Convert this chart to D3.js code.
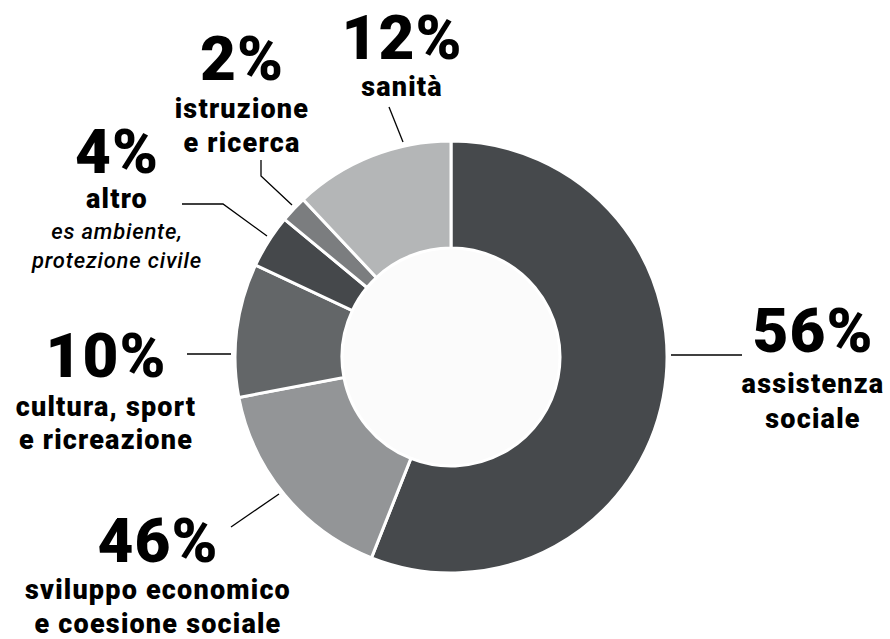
<!DOCTYPE html>
<html><head><meta charset="utf-8">
<script src="https://cdn.jsdelivr.net/npm/d3@7"></script>
<style>
html,body{margin:0;padding:0;background:#fff;}
svg{display:block;}
.pct{font-family:Roboto,"DejaVu Sans",sans-serif;font-weight:900;fill:#000;}
.lab{font-family:Roboto,"DejaVu Sans",sans-serif;font-weight:900;fill:#000;}
.sub{font-family:Roboto,"DejaVu Sans",sans-serif;font-weight:500;font-style:italic;fill:#000;}
</style></head><body>
<svg id="c" width="890" height="639"></svg>
<script>
// ---- data ----
const categories = ["assistenza sociale","sviluppo economico e coesione sociale","cultura, sport e ricreazione","altro","istruzione e ricerca","sanità"];
const values = [56, 16, 10, 4, 2, 12];
const pctLabels = ["56%","46%","10%","4%","2%","12%"];
const labelLines = [["assistenza","sociale"],["sviluppo economico","e coesione sociale"],["cultura, sport","e ricreazione"],["altro"],["istruzione","e ricerca"],["sanità"]];
const subLines = [[],[],[],["es ambiente,","protezione civile"],[],[]];
const colors = ["#46494c","#939597","#636668","#45484b","#7b7d7f","#b4b6b7"];

// ---- layout ----
const cx = 451, cy = 357, R = 216, r0 = 109;
const layout = [
  {x:813, y:352, off:41, gap:35, lines:[[671,355],[742,355]]},
  {x:158, y:562, off:37, gap:34, lines:[[231,527],[279,494]]},
  {x:106, y:377, off:39, gap:33, lines:[[187,354],[231,354]]},
  {x:117, y:173, off:35, gap:34, lines:[[182,204],[223,204],[267,236]]},
  {x:242, y:80,  off:38, gap:34, lines:[[261,160],[261,176],[292,205]]},
  {x:402, y:59,  off:37, gap:34, lines:[[389,107],[403,142]]}
];

const svg = d3.select("#c");
const g = svg.append("g").attr("transform",`translate(${cx},${cy})`);
const pie = d3.pie().sort(null).value(d=>d)(values);
const arc = d3.arc().innerRadius(r0).outerRadius(R);
g.selectAll("path.s").data(pie).join("path").attr("class","s")
  .attr("d",arc).attr("fill",(d,i)=>colors[i]).attr("stroke","#fff").attr("stroke-width",3).attr("stroke-linejoin","miter");
g.append("circle").attr("r",r0-1.5).attr("fill","#fbfbfb");

const line = d3.line();
layout.forEach((L,i)=>{
  svg.append("path").attr("d",line(L.lines)).attr("fill","none").attr("stroke","#000").attr("stroke-width",1.3);
  svg.append("text").attr("class","pct").attr("x",L.x).attr("y",L.y).attr("text-anchor","middle")
    .attr("font-size",62).attr("letter-spacing",1).text(pctLabels[i]);
  labelLines[i].forEach((t,j)=>{
    svg.append("text").attr("class","lab").attr("x",L.x).attr("y",L.y+L.off+j*L.gap)
      .attr("text-anchor","middle").attr("font-size",27).attr("letter-spacing",1.2).text(t);
  });
  subLines[i].forEach((t,j)=>{
    svg.append("text").attr("class","sub").attr("x",L.x).attr("y",L.y+66+j*29)
      .attr("text-anchor","middle").attr("font-size",22).attr("letter-spacing",0.8).text(t);
  });
});
</script>
</body></html>
